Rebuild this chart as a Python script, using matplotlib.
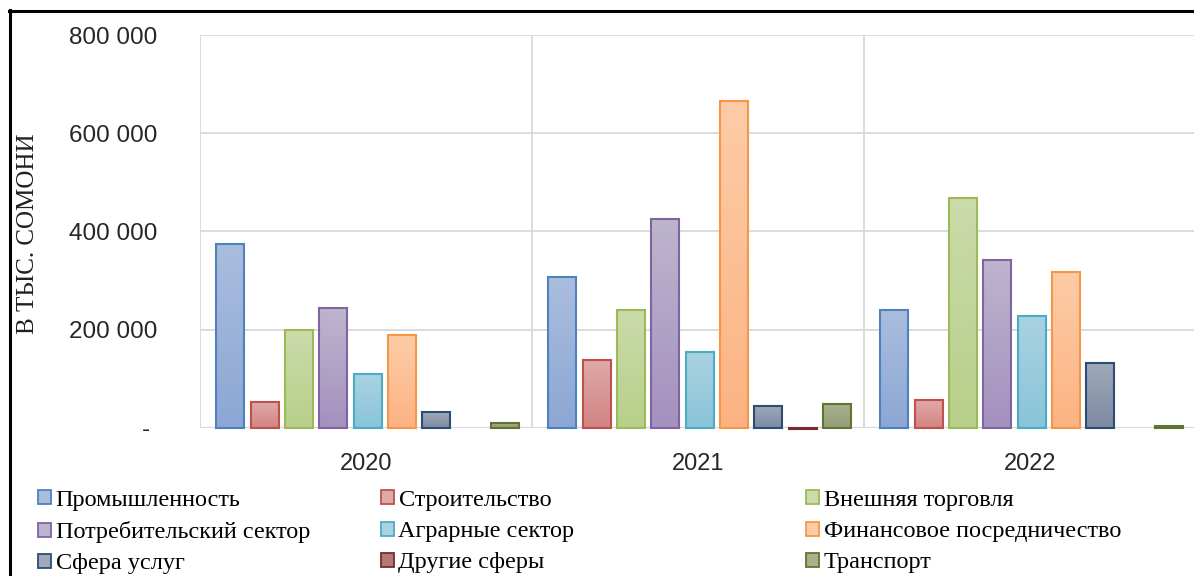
import numpy as np
import matplotlib
matplotlib.use("Agg")
import matplotlib.pyplot as plt
from matplotlib.colors import LinearSegmentedColormap
from matplotlib.patches import Patch
from matplotlib.lines import Line2D
from matplotlib.ticker import FuncFormatter, MultipleLocator, FixedLocator

# ---------------- data (тыс. сомони) ----------------
years = ["2020", "2021", "2022"]
sectors = ["Промышленность", "Строительство", "Внешняя торговля",
           "Потребительский сектор", "Аграрные сектор", "Финансовое посредничество",
           "Сфера услуг", "Другие сферы", "Транспорт"]

promyshlennost = [375000, 308000, 240000]
stroitelstvo = [53000, 139000, 56000]
vneshnyaya_torgovlya = [199000, 241000, 469000]
potrebitelskiy = [244000, 425000, 342000]
agrarnye = [109000, 154000, 229000]
finansovoe = [189000, 665000, 318000]
sfera_uslug = [32000, 45000, 133000]
drugie = [0, -3000, 0]
transport = [11000, 49000, 4000]

series = [promyshlennost, stroitelstvo, vneshnyaya_torgovlya, potrebitelskiy,
          agrarnye, finansovoe, sfera_uslug, drugie, transport]

# (top colour, bottom colour, edge colour) - excel-2007 style gradients
styles = [("#AABDDE", "#8CA7D4", "#4F81BD"),
          ("#DEAAA9", "#D38482", "#C0504D"),
          ("#CBDBAA", "#B8CF8A", "#9BBB59"),
          ("#BDB4CE", "#A491BE", "#8064A2"),
          ("#A9D3E1", "#8AC4D8", "#4BACC6"),
          ("#FDCCA7", "#FCB383", "#F79646"),
          ("#9FA9B9", "#7D8AA1", "#2C4D75"),
          ("#B07A78", "#96605E", "#772C2A"),
          ("#AAB190", "#929D77", "#5F7530")]

W, H = 1194, 576
fig = plt.figure(figsize=(W / 100, H / 100), dpi=100)
ax = fig.add_axes([200 / W, 148 / H, 996 / W, 393 / H])

x = np.arange(len(years))
step = 0.1033
width = 0.0843
for i, vals in enumerate(series):
    top, bot, edge = styles[i]
    bars = ax.bar(x + (i - 4) * step + 0.005, vals, width=width, facecolor="none",
                  edgecolor=edge, linewidth=1.5, zorder=3, clip_on=False)
    cmap = LinearSegmentedColormap.from_list("g%d" % i, [bot, top])
    for p in bars:
        bx, by, bw, bh = p.get_x(), p.get_y(), p.get_width(), p.get_height()
        if bh == 0:
            p.set_visible(False)
            continue
        y0, y1 = min(by, by + bh), max(by, by + bh)
        im = ax.imshow(np.linspace(0, 1, 64).reshape(-1, 1), extent=(bx, bx + bw, y0, y1),
                       origin="lower", cmap=cmap, aspect="auto", zorder=2,
                       interpolation="bilinear")
        im.set_clip_path(p)

ax.set_xlim(-0.5, 2.5)
ax.set_ylim(0, 800000)

# grid
grid_c = "#D9D9D9"
ax.yaxis.set_major_locator(MultipleLocator(200000))
ax.xaxis.set_major_locator(FixedLocator(x))
ax.xaxis.set_minor_locator(FixedLocator([-0.5, 0.5, 1.5, 2.5]))
ax.grid(axis="y", which="major", color=grid_c, linewidth=1.3, zorder=0)
ax.grid(axis="x", which="minor", color=grid_c, linewidth=1.3, zorder=0)
for s in ax.spines.values():
    s.set_visible(False)
ax.axhline(0, color=grid_c, linewidth=1.6, zorder=1)

ax.set_xticklabels(years)
ax.yaxis.set_major_formatter(FuncFormatter(
    lambda v, pos: "- " if v == 0 else "{:,.0f}".format(v).replace(",", " ")))
ax.tick_params(axis="both", which="both", length=0)
ax.tick_params(axis="y", pad=31, labelsize=17.5, labelcolor="#262626")
ax.tick_params(axis="x", pad=18, labelsize=17, labelcolor="#262626")
for t in ax.get_yticklabels() + ax.get_xticklabels():
    t.set_family("Liberation Sans")

fig.text(28 / W, 1 - 234 / H, "В ТЫС. СОМОНИ", rotation=90, ha="center", va="center",
         fontsize=18, family="Liberation Serif", color="#202020")

# legend: three columns, Excel order reads row by row
handles = [Patch(facecolor=s[0], edgecolor=s[2], linewidth=1.3) for s in styles]
col_x = [38, 381, 806]
for c in range(3):
    idx = [c, c + 3, c + 6]
    fig.legend([handles[k] for k in idx], [sectors[k] for k in idx],
               loc="upper left", bbox_to_anchor=(col_x[c] / W, 1 - 490 / H),
               frameon=False, borderpad=0, borderaxespad=0,
               handlelength=0.52, handleheight=0.52, handletextpad=0.2,
               labelspacing=0.42,
               prop={"family": "Liberation Serif", "size": 17.5})

# black outer frame (page border of the figure)
fig.add_artist(Line2D([10 / W, 10 / W], [0, 1 - 10 / H], color="black", linewidth=2.2,
                      transform=fig.transFigure))
fig.add_artist(Line2D([9 / W, 1], [1 - 11 / H, 1 - 11 / H], color="black", linewidth=2.2,
                      transform=fig.transFigure))

fig.savefig("out.png", dpi=100)
